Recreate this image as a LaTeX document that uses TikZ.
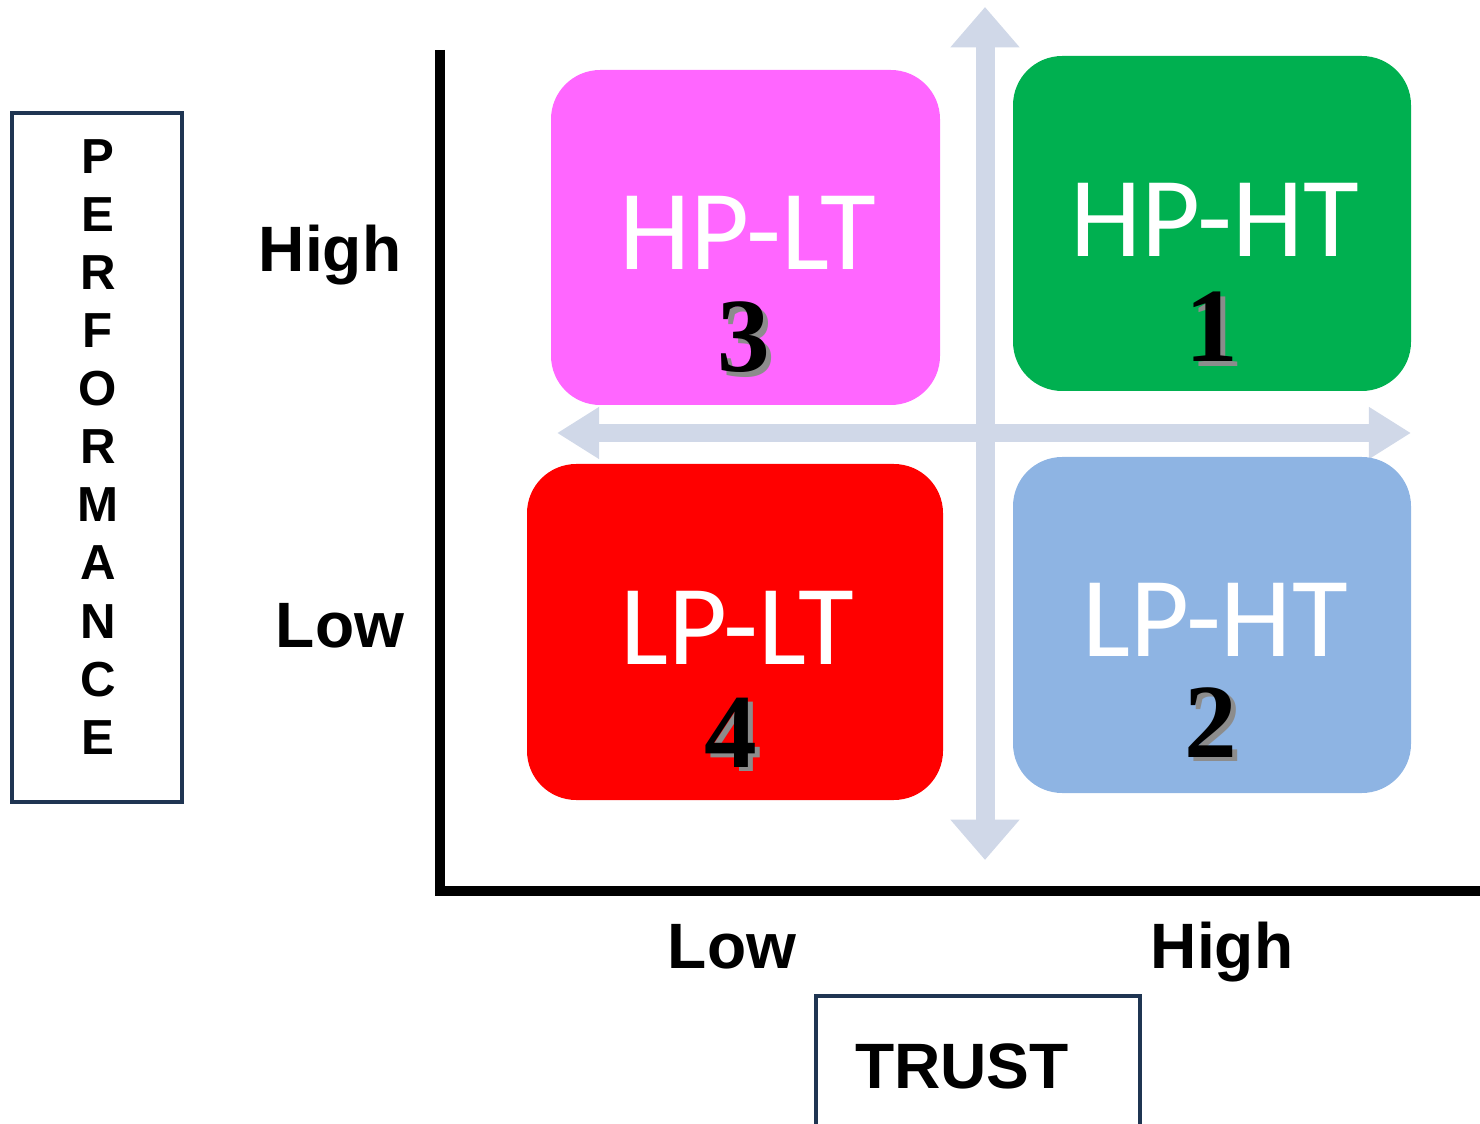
\documentclass[tikz,border=0pt]{standalone}
\usepackage{fontspec}
\setmainfont{Liberation Sans}
\newfontfamily\boxfont{Carlito}
\newfontfamily\numfont{Liberation Serif}
\usetikzlibrary{positioning}
\usetikzlibrary{arrows.meta}
\definecolor{navy}{HTML}{1F3552}
\definecolor{crossblue}{HTML}{D0D8E8}
\definecolor{magentabox}{HTML}{FF66FF}
\definecolor{greenbox}{HTML}{00B050}
\definecolor{redbox}{HTML}{FF0000}
\definecolor{bluebox}{HTML}{8EB4E3}
\newcommand\shadednum[1]{\makebox[0pt][l]{\hspace{2.5pt}\raisebox{-2.5pt}{\color{black!45}#1}}#1}

\begin{document}
\begin{tikzpicture}
    [x=0.02cm, y=-0.02cm,
    quad/.style={draw=none, rounded corners=28pt},
    quadtext/.style={anchor=base, text=white, font=\boxfont\fontsize{65}{65}\selectfont},
    quadnum/.style={anchor=base, text=black, font=\numfont\bfseries\fontsize{60}{60}\selectfont},
    axislabel/.style={anchor=base, font=\bfseries\fontsize{36.5}{36.5}\selectfont},
    titlebox/.style={draw=navy, line width=2.3pt},
    cross/.style={crossblue, line width=10.8pt, -{Triangle[width=38pt,length=23pt]}}]
    \useasboundingbox (0,0) rectangle (1480,1124);
    %\draw[step=100,gray,very thin] (0,0) grid (1480,1124);
    % cross arrows
    \coordinate (up)    at (985, 7);
    \coordinate (down)  at (985, 860);
    \coordinate (left)  at (557, 433);
    \coordinate (right) at (1411, 433);
    \coordinate (mid)   at (985, 433);
    \draw[cross] (mid) -- (up);
    \draw[cross] (mid) -- (down);
    \draw[cross, -{Triangle[width=28pt,length=24pt]}] (mid) -- (left);
    \draw[cross, -{Triangle[width=28pt,length=24pt]}] (mid) -- (right);
    % quadrants
    \fill[quad, magentabox] (551, 70)  rectangle (940, 405);
    \fill[quad, greenbox]   (1013, 56) rectangle (1411, 391);
    \fill[quad, redbox]     (527, 464) rectangle (943, 800);
    \fill[quad, bluebox]    (1013, 457) rectangle (1411, 793);
    \node[quadtext] (hplt) at (748, 270)  {HP-LT};
    \node[quadtext] (hpht) at (1215, 257) {HP-HT};
    \node[quadtext] (lplt) at (737, 664)  {LP-LT};
    \node[quadtext] (lpht) at (1215, 656) {LP-HT};
    \node[quadnum] (three) at (744, 372) {\shadednum{3}};
    \node[quadnum] (one)   at (1212, 362) {\shadednum{1}};
    \node[quadnum] (four)  at (731, 767) {\shadednum{4}};
    \node[quadnum] (two)   at (1211, 757) {\shadednum{2}};
    % axes
    \coordinate (origin) at (440, 891);
    \coordinate (ytop)   at (440, 50);
    \coordinate (xend)   at (1480, 891);
    \draw[line width=5.7pt] (ytop) -- (origin) -- (xend);
    \node[axislabel] (yhigh) at (330, 272) {High};
    \node[axislabel] (ylow)  at (340, 647) {Low};
    \node[axislabel] (xlow)  at (732, 968) {Low};
    \node[axislabel] (xhigh) at (1222, 968) {High};
    % titles
    \draw[titlebox] (12, 113) rectangle (182, 802);
    \foreach \ch [count=\i] in {P,E,R,F,O,R,M,A,N,C,E}
        \node[anchor=base, font=\bfseries\fontsize{28}{28}\selectfont] (perf\i) at (98, {157+58*(\i-1)+17}) {\ch};
    \draw[titlebox] (816, 1130) -- (816, 996) -- (1140, 996) -- (1140, 1130);
    \node[axislabel] (trust) at (962, 1088) {TRUST};
\end{tikzpicture}
\end{document}
